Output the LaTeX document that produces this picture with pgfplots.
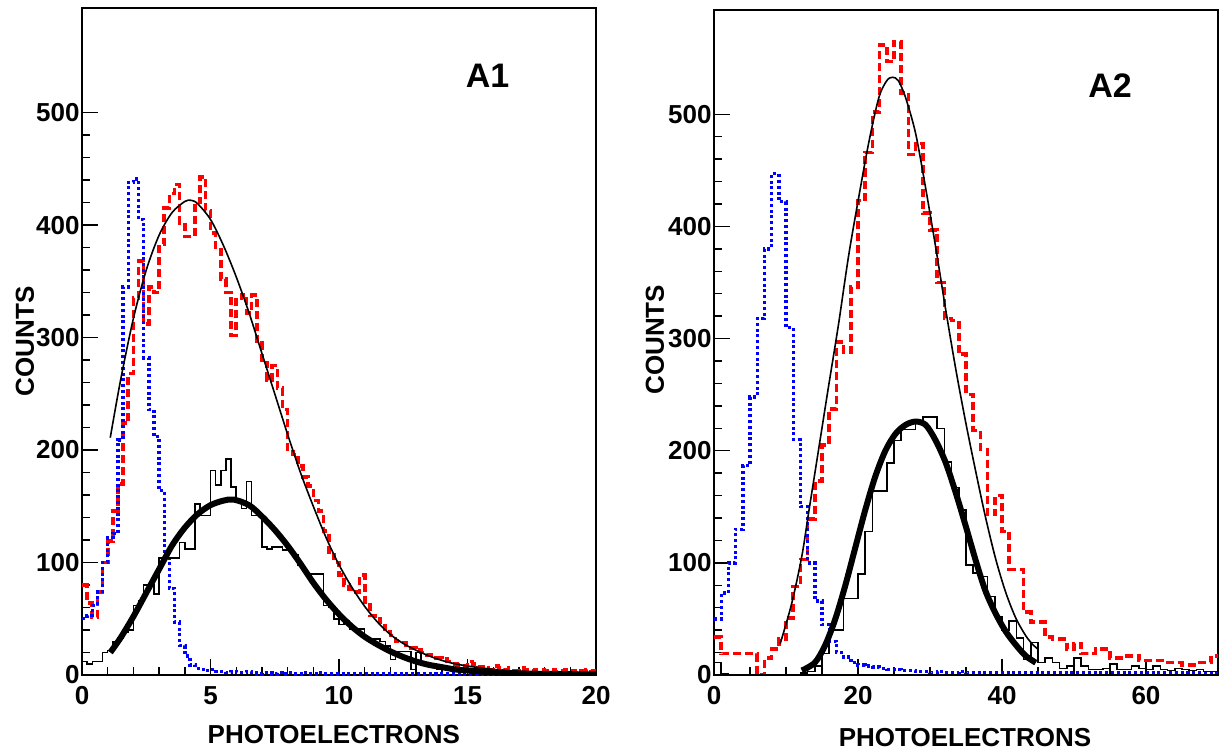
\documentclass[border=0pt]{standalone}
\usepackage{fontspec}
\setmainfont{Liberation Sans}
\usepackage{pgfplots}
\pgfplotsset{compat=1.18}
\definecolor{rootred}{RGB}{255,0,0}
\definecolor{rootblue}{RGB}{0,0,255}
\newcommand{\lblfont}{\fontsize{13pt}{15pt}\selectfont\bfseries}
\pgfplotsset{
  rootstyle/.style={
    scale only axis,
    axis line style={line width=1.2pt},
    tick align=inside, xtick pos=left, ytick pos=left,
    major tick length=8pt, minor tick length=4pt,
    every tick/.style={black, line width=0.7pt},
    ymin=0, ymax=593, ytick={0,100,200,300,400,500}, minor y tick num=4,
    /pgf/number format/assume math mode=true,
    ticklabel style={font=\lblfont},
    yticklabel style={inner sep=1pt},
    xticklabel style={inner sep=5.5pt},
    label style={font=\lblfont},
    xlabel={PHOTOELECTRONS}, ylabel={COUNTS},
    clip=true,
  },
  redh/.style={const plot mark left, rootred, line width=1.8pt, dash pattern=on 4pt off 2pt},
  blueh/.style={const plot mark left, rootblue, line width=1.7pt, dash pattern=on 1.5pt off 1.4pt},
  blackh/.style={const plot mark left, black, line width=0.75pt},
  thinfit/.style={smooth, black, line width=0.8pt},
  thickfit/.style={smooth, black, line width=3pt},
}
\begin{document}
\begin{tikzpicture}
\path[use as bounding box] (0,0) rectangle (609.5pt,374.5pt);
% ---------------- A1 ----------------
\begin{axis}[rootstyle, at={(41pt,37pt)}, anchor=south west,
  width=257pt, height=333.5pt,
  xmin=0, xmax=20, xtick={0,5,10,15,20}, minor x tick num=4,
  xlabel style={at={(axis description cs:0.49,-0.09)}, anchor=center},
  ylabel style={at={(axis description cs:-0.111,0.5)}, anchor=center},
]
\addplot[redh] coordinates {
(0.0,80)(0.2,64)(0.4,51)(0.6,74)(0.8,100)(1.0,119)(1.2,146)(1.4,170)(1.6,224)(1.8,268)
(2.0,335)(2.2,368)(2.4,312)(2.6,345)(2.8,340)(3.0,383)(3.2,415)(3.4,428)(3.6,436)(3.8,402)
(4.0,390)(4.2,390)(4.4,420)(4.6,443)(4.8,413)(5.0,393)(5.2,378)(5.4,352)(5.6,340)(5.8,302)
(6.0,335)(6.2,338)(6.4,322)(6.6,338)(6.8,295)(7.0,278)(7.2,262)(7.4,275)(7.6,255)(7.8,236)
(8.0,201)(8.2,196)(8.4,186)(8.6,176)(8.8,168)(9.0,155)(9.2,146)(9.4,128)(9.6,107)(9.8,100)
(10.0,89)(10.2,80)(10.4,76)(10.6,74)(10.8,89)(11.0,65)(11.2,53)(11.4,50)(11.6,44)(11.8,38)
(12.0,35)(12.2,30)(12.4,29)(12.6,24)(12.8,24)(13.0,22)(13.2,20)(13.4,18)(13.6,15)(13.8,15)
(14.0,14)(14.2,12)(14.4,10)(14.6,9)(14.8,8)(15.0,12)(15.2,10)(15.4,7)(15.6,6)(15.8,5)
(16.0,8)(16.2,6)(16.4,5)(16.6,6)(16.8,4)(17.0,6)(17.2,5)(17.4,4)(17.6,5)(17.8,5)
(18.0,4)(18.2,5)(18.4,3)(18.6,4)(18.8,5)(19.0,4)(19.2,3)(19.4,4)(19.6,5)(19.8,4)(20.0,4)
};
\addplot[blueh] coordinates {
(0.0,50)(0.2,53)(0.4,62)(0.6,74)(0.8,100)(1.0,122)(1.2,126)(1.4,209)(1.6,345)(1.8,438)
(2.0,441)(2.2,405)(2.4,282)(2.6,236)(2.8,212)(3.0,164)(3.2,107)(3.4,77)(3.6,47)(3.8,26)
(4.0,17)(4.2,9)(4.4,6)(4.6,5)(4.8,4)(5.0,5)(5.2,3)(5.4,3)(5.6,2)(5.8,3)
(6.0,2)(6.2,2)(6.4,3)(6.6,2)(6.8,1)(7.0,2)(7.2,2)(7.4,1)(7.6,2)(7.8,1)
(8.0,2)(8.2,1)(8.4,1)(8.6,2)(8.8,1)(9.0,1)(9.2,2)(9.4,1)(9.6,1)(9.8,1)
(10.0,1)(10.2,1)(10.4,1)(10.6,1)(10.8,1)(11.0,1)(11.2,1)(11.4,1)(11.6,1)(11.8,1)
(12.0,1)(12.2,1)(12.4,1)(12.6,1)(12.8,1)(13.0,1)(13.2,1)(13.4,1)(13.6,1)(13.8,1)
(14.0,1)(14.2,1)(14.4,1)(14.6,1)(14.8,1)(15.0,1)(15.2,1)(15.4,1)(15.6,1)(15.8,1)
(16.0,1)(16.2,1)(16.4,1)(16.6,1)(16.8,1)(17.0,1)(17.2,1)(17.4,1)(17.6,1)(17.8,1)
(18.0,1)(18.2,1)(18.4,1)(18.6,1)(18.8,1)(19.0,1)(19.2,1)(19.4,1)(19.6,1)(19.8,1)(20.0,1)
};
\addplot[blackh] coordinates {
(0.0,12)(0.2,10)(0.4,12)(0.6,12)(0.8,20)(1.0,22)(1.2,30)(1.4,33)(1.6,38)(1.8,40)
(2.0,62)(2.2,66)(2.4,80)(2.6,80)(2.8,72)(3.0,104)(3.2,104)(3.4,104)(3.6,104)(3.8,118)
(4.0,112)(4.2,112)(4.4,152)(4.6,142)(4.8,142)(5.0,182)(5.2,169)(5.4,182)(5.6,192)(5.8,167)
(6.0,154)(6.2,148)(6.4,172)(6.6,142)(6.8,142)(7.0,114)(7.2,112)(7.4,114)(7.6,114)(7.8,111)
(8.0,111)(8.2,107)(8.4,98)(8.6,92)(8.8,90)(9.0,90)(9.2,90)(9.4,62)(9.6,60)(9.8,50)
(10.0,45)(10.2,48)(10.4,41)(10.6,41)(10.8,41)(11.0,32)(11.2,32)(11.4,32)(11.6,30)(11.8,26)
(12.0,14)(12.2,21)(12.4,21)(12.6,21)(12.8,5)(13.0,20)(13.2,10)(13.4,8)(13.6,8)(13.8,5)
(14.0,8)(14.2,5)(14.4,4)(14.6,4)(14.8,4)(15.0,3)(15.2,3)(15.4,3)(15.6,2)(15.8,3)
(16.0,2)(16.2,2)(16.4,1)(16.6,2)(16.8,1)(17.0,2)(17.2,1)(17.4,1)(17.6,2)(17.8,1)
(18.0,1)(18.2,1)(18.4,2)(18.6,1)(18.8,1)(19.0,1)(19.2,1)(19.4,1)(19.6,1)(19.8,1)(20.0,1)
};
\addplot[thinfit] coordinates {
(1.1,211)(1.5,262)(2.0,317)(2.5,360)(3.0,391)(3.5,411)(4.0,421)(4.25,422)(4.5,419)
(5.0,405)(5.5,382)(6.0,354)(6.5,322)(7.0,286)(7.5,250)(8.0,214)(8.5,180)(9.0,150)
(9.5,122)(10.0,98)(10.5,78)(11.0,61)(11.5,47)(12.0,36)(12.5,28)(13.0,22)(13.5,17)
(14.0,13)(14.5,10)(15.0,8)(16.0,5)(17.0,3)(18.0,2)(19.0,1.5)(20.0,1)
};
\addplot[thickfit] coordinates {
(1.1,20)(1.5,33)(2.0,52)(2.5,73)(3.0,94)(3.5,115)(4.0,131)(4.5,143)(5.0,151)(5.5,155)
(5.9,156)(6.5,151)(7.0,141)(7.5,129)(8.0,115)(8.5,99)(9.0,82)(9.5,67)(10.0,54)(10.5,43)
(11.0,34)(11.5,27)(12.0,21)(12.5,16)(13.0,12)(13.5,9)(14.0,7)(14.5,5)(15.0,4)(16.0,2.5)
(17.0,1.5)(18.0,1)(20.0,0.5)
};
\node[font=\fontsize{17pt}{20pt}\selectfont\bfseries] at (rel axis cs:0.789,0.898) {A1};
\end{axis}
% ---------------- A2 ----------------
\begin{axis}[rootstyle, at={(357pt,37pt)}, anchor=south west,
  width=252pt, height=332.5pt,
  xmin=0, xmax=70, xtick={0,20,40,60}, minor x tick num=3,
  xlabel style={at={(axis description cs:0.498,-0.094)}, anchor=center},
  ylabel style={at={(axis description cs:-0.117,0.504)}, anchor=center},
]
\addplot[redh] coordinates {
(0,34)(1,19)(2,19)(3,19)(4,19)(5,19)(6,0)(7,15)(8,23)(9,32)
(10,51)(11,79)(12,103)(13,139)(14,173)(15,205)(16,237)(17,297)(18,288)(19,346)
(20,423)(21,466)(22,502)(23,562)(24,547)(25,565)(26,519)(27,464)(28,474)(29,412)
(30,397)(31,350)(32,318)(33,316)(34,286)(35,250)(36,218)(37,201)(38,143)(39,160)
(40,128)(41,94)(42,94)(43,56)(44,47)(45,47)(46,34)(47,32)(48,32)(49,23)
(50,28)(51,19)(52,19)(53,23)(54,23)(55,15)(56,15)(57,17)(58,17)(59,13)
(60,13)(61,13)(62,13)(63,11)(64,11)(65,9)(66,9)(67,11)(68,11)(69,17)(70,17)
};
\addplot[blueh] coordinates {
(0,50)(1,73)(2,100)(3,130)(4,187)(5,248)(6,318)(7,380)(8,447)(9,422)
(10,310)(11,210)(12,150)(13,100)(14,66)(15,45)(16,30)(17,20)(18,16)(19,11)
(20,9)(21,8)(22,7)(23,6)(24,5)(25,5)(26,4)(27,4)(28,3)(29,3)
(30,2)(31,3)(32,2)(33,2)(34,3)(35,2)(36,2)(37,2)(38,2)(39,2)
(40,2)(41,2)(42,2)(43,2)(44,2)(45,2)(46,2)(47,2)(48,2)(49,2)
(50,2)(51,2)(52,2)(53,2)(54,2)(55,2)(56,2)(57,2)(58,2)(59,2)
(60,2)(61,2)(62,2)(63,2)(64,2)(65,2)(66,2)(67,2)(68,2)(69,2)(70,2)
};
\addplot[blackh] coordinates {
(0,11)(1,1)(2,0)(3,0)(4,0)(5,0)(6,0)(7,0)(8,0)(9,0)
(10,0)(11,0)(12,2)(13,3)(14,8)(15,19)(16,40)(17,40)(18,68)(19,68)
(20,90)(21,128)(22,164)(23,164)(24,189)(25,209)(26,219)(27,219)(28,225)(29,230)
(30,230)(31,220)(32,190)(33,167)(34,147)(35,98)(36,91)(37,88)(38,70)(39,52)
(40,40)(41,48)(42,33)(43,14)(44,29)(45,11)(46,15)(47,11)(48,6)(49,8)
(50,15)(51,8)(52,5)(53,5)(54,6)(55,10)(56,5)(57,5)(58,8)(59,6)
(60,5)(61,8)(62,5)(63,4)(64,6)(65,5)(66,4)(67,5)(68,3)(69,3)(70,3)
};
\addplot[thinfit] coordinates {
(9.2,28)(10.8,64)(12.2,106)(13.1,143)(14.5,200)(15.9,257)(17.3,313)(18.7,374)
(20.1,426)(21.5,475)(22.9,515)(24.0,530)(24.8,533)(25.6,530)(26.6,515)(28.0,483)
(29.4,434)(30.8,381)(32.2,325)(33.6,272)(35.0,224)(36.4,180)(37.7,141)(39.1,104)
(40.5,74)(41.9,51)(43.3,35)(44.3,27)(45.0,23)
};
\addplot[thickfit] coordinates {
(12.2,4)(14.0,11)(15.4,26)(16.8,49)(18.2,79)(19.6,113)(21.0,147)(22.4,177)(23.8,200)
(25.2,215)(26.6,223)(28.0,226)(29.4,223)(30.8,209)(32.2,189)(33.6,162)(35.0,132)
(36.4,101)(37.7,75)(39.1,55)(40.5,39)(41.9,27)(43.3,17)(44.7,11)
};
\node[font=\fontsize{17pt}{20pt}\selectfont\bfseries] at (rel axis cs:0.786,0.887) {A2};
\end{axis}
\end{tikzpicture}
\end{document}
